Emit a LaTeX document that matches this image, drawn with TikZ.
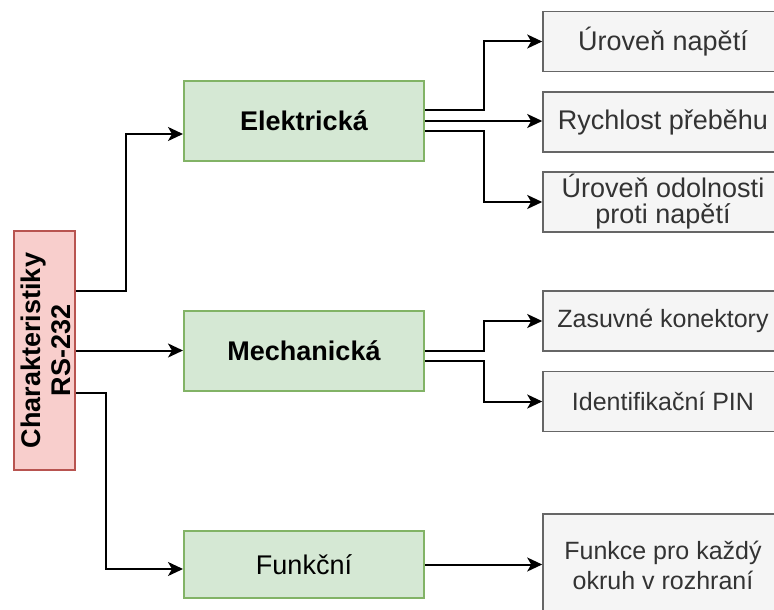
\documentclass[tikz,border=0pt]{standalone}
\usepackage{fontspec}
\setmainfont{Liberation Sans}
\usetikzlibrary{arrows.meta,calc,positioning}
\definecolor{RootFill}{HTML}{F8CECC}
\definecolor{RootLine}{HTML}{B85450}
\definecolor{GroupFill}{HTML}{D5E8D4}
\definecolor{GroupLine}{HTML}{82B366}
\definecolor{LeafFill}{HTML}{F5F5F5}
\definecolor{LeafLine}{HTML}{666666}
\definecolor{LeafText}{HTML}{333333}
\tikzset{
  rootbox/.style={
    draw=RootLine, line width=2pt, fill=RootFill,
    minimum width=61pt, minimum height=239pt, inner sep=0pt
  },
  groupbox/.style={
    draw=GroupLine, line width=2pt, fill=GroupFill,
    minimum width=240pt, minimum height=80pt,
    font=\fontsize{27}{30}\selectfont\bfseries
  },
  leafbox/.style={
    draw=LeafLine, line width=1.6pt, fill=LeafFill, text=LeafText,
    minimum width=240pt, minimum height=60pt, align=center, inner sep=0pt,
    font=\fontsize{27}{26}\selectfont
  },
  smallleaf/.style={leafbox, font=\fontsize{25}{30}\selectfont},
  flow/.style={-{Stealth[length=15pt,width=14pt,inset=4pt]}, line width=2pt, draw=black}
}

\begin{document}
\begin{tikzpicture}[x=1pt,y=-1pt]
    \useasboundingbox (0,0) rectangle (774,610);
    \clip (0,0) rectangle (774,610);
    % root
    \node[rootbox] (root) at (44.5,350.5) {};
    \node[rotate=90,align=center,font=\fontsize{27}{30}\selectfont\bfseries] (rootlabel) at (45.5,350.5) {Charakteristiky\\RS-232};
    % groups
    \node[groupbox] (elek) at (304,121) {Elektrická};
    \node[groupbox] (mech) at (304,350.5) {Mechanická};
    \node[groupbox,minimum height=67pt,font=\fontsize{27}{30}\selectfont] (funk) at (304,564.5) {Funkční};
    % leaves
    \node[leafbox] (napeti) at (663,41.5) {Úroveň napětí};
    \node[leafbox] (rychlost) at (663,122) {Rychlost přeběhu};
    \node[leafbox] (odolnost) at (663,202) {Úroveň odolnosti\\proti napětí};
    \node[smallleaf] (konektory) at (663,321) {Zasuvné konektory};
    \node[smallleaf] (pin) at (663,401.5) {Identifikační PIN};
    \node[smallleaf,minimum height=102pt] (funkce) at (663,565) {Funkce pro každý\\okruh v rozhraní};
    % connectors
    \draw[flow] ([yshift=59.5pt]root.east) -- ++(50,0) |- ([yshift=-13pt]elek.west);
    \draw[flow] (root.east) -- (mech.west);
    \draw[flow] ([yshift=-42.5pt]root.east) -- ++(30,0) |- ([yshift=-4.5pt]funk.west);
    \draw[flow] ([yshift=11pt]elek.east) -- ++(59,0) |- (napeti.west);
    \draw[flow] (elek.east) -- (elek.east -| rychlost.west);
    \draw[flow] ([yshift=-10pt]elek.east) -- ++(59,0) |- (odolnost.west);
    \draw[flow] (mech.east) -- ++(59,0) |- (konektory.west);
    \draw[flow] ([yshift=-10.5pt]mech.east) -- ++(59,0) |- (pin.west);
    \draw[flow] (funk.east) -- (funk.east -| funkce.west);
\end{tikzpicture}
\end{document}
